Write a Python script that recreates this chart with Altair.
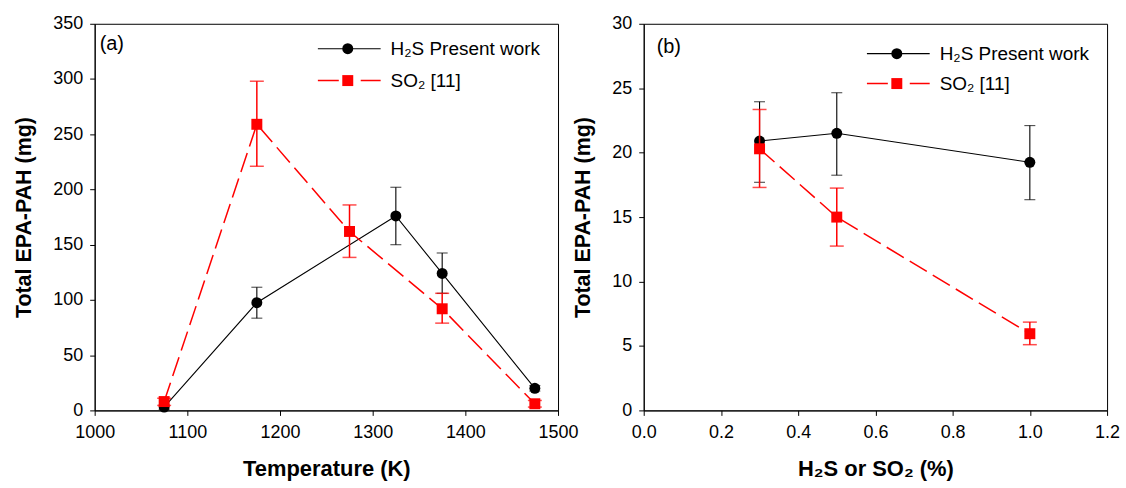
import altair as alt
import pandas as pd

FONT = "Liberation Sans"

# ---------------- Panel (a): temperature ----------------
temp_h2s = [1075, 1175, 1325, 1375, 1475]
pah_h2s_a = [3, 97.5, 176, 124, 20]
lo_h2s_a = [1, 83.5, 150, 106, 17.5]
hi_h2s_a = [5, 111.5, 202, 142.5, 22.5]

temp_so2 = [1075, 1175, 1275, 1375, 1475]
pah_so2_a = [8, 259, 162, 92, 6]
lo_so2_a = [4.5, 221, 138.5, 79, 3]
hi_so2_a = [11, 298, 186, 106, 9]

# ---------------- Panel (b): concentration ----------------
pct = [0.3, 0.5, 1.0]
pah_h2s_b = [20.9, 21.5, 19.25]
lo_h2s_b = [17.7, 18.25, 16.35]
hi_h2s_b = [23.95, 24.65, 22.1]
pah_so2_b = [20.3, 15.0, 5.95]
lo_so2_b = [17.3, 12.75, 5.1]
hi_so2_b = [23.35, 17.25, 6.85]

series_names = ["H\u2082S Present work", "SO\u2082 [11]"]
panel_labels = ["(a)", "(b)"]
x_titles = ["Temperature (K)", "H\u2082S or SO\u2082 (%)"]
y_title = "Total EPA-PAH (mg)"
x_ticks_a = [1000, 1100, 1200, 1300, 1400, 1500]
y_ticks_a = [0, 50, 100, 150, 200, 250, 300, 350]
x_ticks_b = [0.0, 0.2, 0.4, 0.6, 0.8, 1.0, 1.2]
y_ticks_b = [0, 5, 10, 15, 20, 25, 30]

W, H = 465, 388
RED = "#ff0000"
DASH = [20, 7]


def frame(xs, ys, lo, hi):
    return pd.DataFrame({"x": xs, "y": ys, "lo": lo, "hi": hi})


def panel(df_h, df_s, xdom, ydom, xticks, yticks, xtitle, xfmt, label,
          label_pos, leg_y):
    def X(field):
        return alt.X(f"{field}:Q",
                     scale=alt.Scale(domain=xdom, nice=False, zero=False),
                     axis=alt.Axis(values=xticks, format=xfmt, title=xtitle))

    def Y(field):
        return alt.Y(f"{field}:Q",
                     scale=alt.Scale(domain=ydom, nice=False, zero=False),
                     axis=alt.Axis(values=yticks, format="d", title=y_title))

    layers = []
    for df, color, sw, dash, shape, cap in [
        (df_h, "black", 1.1, None, "circle", 11),
        (df_s, RED, 1.5, DASH, "square", 14),
    ]:
        line_kw = dict(color=color, strokeWidth=sw)
        if dash:
            line_kw["strokeDash"] = dash
        layers.append(alt.Chart(df).mark_line(**line_kw).encode(x=X("x"), y=Y("y")))
        layers.append(alt.Chart(df).mark_rule(color=color, strokeWidth=sw)
                      .encode(x=X("x"), y=Y("lo"), y2="hi:Q"))
        for f in ["lo", "hi"]:
            layers.append(alt.Chart(df).mark_tick(orient="horizontal", color=color,
                                                  size=cap, thickness=sw)
                          .encode(x=X("x"), y=Y(f)))
        layers.append(alt.Chart(df).mark_point(shape=shape, filled=True, size=121,
                                               color=color, opacity=1)
                      .encode(x=X("x"), y=Y("y")))

    one = pd.DataFrame({"k": [0]})
    # legend
    leg_x0, leg_x1, leg_mk, leg_tx = 224, 287, 254, 297
    for i, (color, sw, dash, shape) in enumerate([
        ("black", 1.1, None, "circle"),
        (RED, 1.5, [21, 22], "square"),
    ]):
        yy = leg_y[i]
        kw = dict(color=color, strokeWidth=sw)
        if dash:
            kw["strokeDash"] = dash
        layers.append(alt.Chart(one).mark_rule(**kw).encode(
            x=alt.value(leg_x0), x2=alt.value(leg_x1), y=alt.value(yy)))
        layers.append(alt.Chart(one).mark_point(shape=shape, filled=True, size=121,
                                                color=color, opacity=1).encode(
            x=alt.value(leg_mk), y=alt.value(yy)))
        layers.append(alt.Chart(one).mark_text(text=series_names[i], font=FONT,
                                               fontSize=19, align="left",
                                               baseline="middle", color="black").encode(
            x=alt.value(leg_tx), y=alt.value(yy)))
    layers.append(alt.Chart(one).mark_text(text=label, font=FONT, fontSize=20,
                                           align="left", baseline="middle",
                                           color="black").encode(
        x=alt.value(label_pos[0]), y=alt.value(label_pos[1])))
    return alt.layer(*layers).properties(width=W, height=H)


pa = panel(frame(temp_h2s, pah_h2s_a, lo_h2s_a, hi_h2s_a),
           frame(temp_so2, pah_so2_a, lo_so2_a, hi_so2_a),
           [1000, 1500], [0, 350], x_ticks_a, y_ticks_a, x_titles[0], "d",
           panel_labels[0], (5, 20), (25, 57))
pb = panel(frame(pct, pah_h2s_b, lo_h2s_b, hi_h2s_b),
           frame(pct, pah_so2_b, lo_so2_b, hi_so2_b),
           [0, 1.2], [0, 30], x_ticks_b, y_ticks_b, x_titles[1], ".1f",
           panel_labels[1], (13, 23), (30, 60))

chart = (
    alt.hconcat(pa, pb, spacing=86, bounds="flush")
    .properties(padding={"left": 13, "top": 13, "right": 5, "bottom": 4},
                background="white")
    .configure_view(stroke="black", strokeWidth=1)
    .configure_axis(labelFont=FONT, labelFontSize=18, labelColor="black",
                    labelFlush=False, labelOverlap=False,
                    titleFont=FONT, titleFontWeight="bold",
                    titleColor="black", tickColor="black", domainColor="black",
                    grid=False, tickSize=5, tickWidth=1, domainWidth=1)
    .configure_axisX(labelPadding=8, titlePadding=17, titleFontSize=22)
    .configure_axisY(labelPadding=7, titlePadding=17, titleFontSize=21.5)
)

chart.save("out.html", embed_options={"renderer": "svg", "actions": False})
